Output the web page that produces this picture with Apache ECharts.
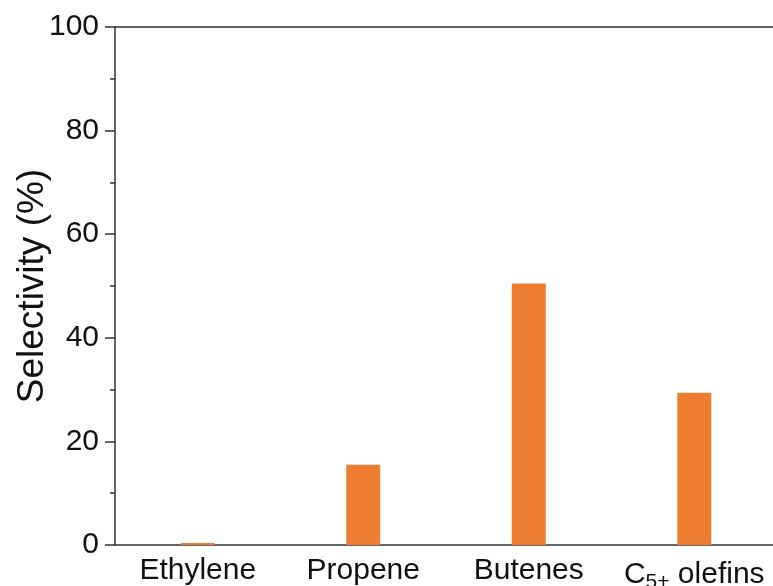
<!DOCTYPE html>
<html>
<head>
<meta charset="utf-8">
<script src="https://cdn.jsdelivr.net/npm/echarts@6/dist/echarts.min.js"></script>
<style>html,body{margin:0;padding:0;background:#fff}#c{width:773px;height:586px}</style>
</head>
<body>
<div id="c"></div>
<script>
const categories = ['Ethylene', 'Propene', 'Butenes', 'C5+ olefins'];
const selectivity = [0.4, 15.5, 50.5, 29.4];
const yTicks = [0, 20, 40, 60, 80, 100];

const FONT = "'Liberation Sans', Arial, sans-serif";
const AXIS = '#333333';
const chart = echarts.init(document.getElementById('c'));
chart.setOption({
  animation: false,
  backgroundColor: '#ffffff',
  grid: { left: 115, right: -4, top: 27, bottom: 41, containLabel: false, outerBoundsMode: 'none' },
  xAxis: [{
    type: 'category',
    data: categories,
    position: 'bottom',
    axisLine: { show: true, lineStyle: { color: AXIS, width: 1.5 } },
    axisTick: { show: false },
    axisLabel: {
      interval: 0,
      hideOverlap: false,
      margin: 11,
      fontFamily: FONT, fontSize: 30, color: '#111',
      formatter: function (v) {
        if (v === 'C5+ olefins') return '{a|C}{s|5+}{a| olefins}';
        return v;
      },
      rich: {
        a: { fontFamily: FONT, fontSize: 30, color: '#111' },
        s: { fontFamily: FONT, fontSize: 21, color: '#111', padding: [16, 0, 0, 0] }
      }
    }
  }, {
    type: 'category',
    data: categories,
    position: 'top',
    axisLine: { show: true, lineStyle: { color: AXIS, width: 1.5 } },
    axisTick: { show: false },
    axisLabel: { show: false }
  }],
  yAxis: {
    type: 'value',
    min: yTicks[0], max: yTicks[yTicks.length - 1], interval: 20,
    name: 'Selectivity (%)',
    nameLocation: 'middle',
    nameGap: 64,
    nameMoveOverlap: false,
    nameTextStyle: { fontFamily: FONT, fontSize: 37, color: '#111' },
    axisLine: { show: true, lineStyle: { color: AXIS, width: 1.5 } },
    axisTick: { show: true, inside: false, length: 10, lineStyle: { color: AXIS, width: 1.5 } },
    minorTick: { show: true, splitNumber: 2, length: 5, lineStyle: { color: AXIS, width: 1.5 } },
    splitLine: { show: false },
    axisLabel: { margin: 16, fontFamily: FONT, fontSize: 30, color: '#111' }
  },
  series: [{
    type: 'bar',
    data: selectivity,
    barWidth: 34,
    itemStyle: { color: '#ED7D31' }
  }]
});
</script>
</body>
</html>
